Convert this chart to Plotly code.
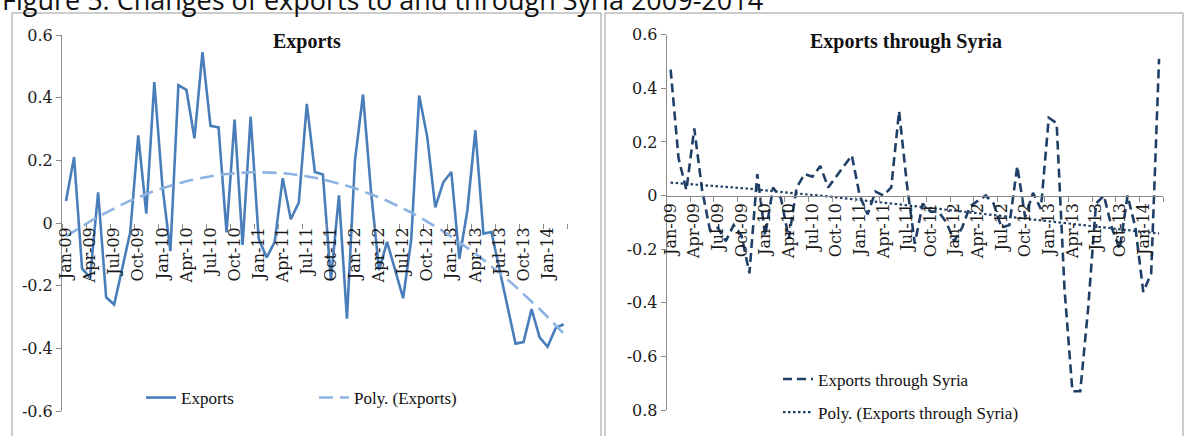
import numpy as np
import plotly.graph_objects as go

W, H = 1185, 436

months = ["Jan-09","Feb-09","Mar-09","Apr-09","May-09","Jun-09","Jul-09","Aug-09","Sep-09","Oct-09","Nov-09","Dec-09",
          "Jan-10","Feb-10","Mar-10","Apr-10","May-10","Jun-10","Jul-10","Aug-10","Sep-10","Oct-10","Nov-10","Dec-10",
          "Jan-11","Feb-11","Mar-11","Apr-11","May-11","Jun-11","Jul-11","Aug-11","Sep-11","Oct-11","Nov-11","Dec-11",
          "Jan-12","Feb-12","Mar-12","Apr-12","May-12","Jun-12","Jul-12","Aug-12","Sep-12","Oct-12","Nov-12","Dec-12",
          "Jan-13","Feb-13","Mar-13","Apr-13","May-13","Jun-13","Jul-13","Aug-13","Sep-13","Oct-13","Nov-13","Dec-13",
          "Jan-14","Feb-14","Mar-14"]

exports = [0.07, 0.21, -0.145, -0.175, 0.098, -0.237, -0.26, -0.15, -0.03, 0.28,
           0.03, 0.45, 0.12, -0.09, 0.44, 0.425, 0.27, 0.545, 0.31, 0.305,
           -0.03, 0.33, -0.07, 0.34, -0.05, -0.11, -0.06, 0.143, 0.012, 0.065,
           0.38, 0.163, 0.155, -0.183, 0.088, -0.305, 0.2, 0.41, 0.10, -0.15,
           -0.06, -0.15, -0.24, -0.055, 0.407, 0.275, 0.05, 0.13, 0.163, -0.114,
           0.04, 0.296, -0.034, -0.029, -0.15, -0.27, -0.385, -0.38, -0.275, -0.365,
           -0.395, -0.335, -0.323]

exports_syria = [0.47, 0.14, 0.02, 0.25, 0.02, -0.13, -0.12, -0.17, -0.11, -0.15,
                 -0.29, 0.08, -0.15, 0.03, -0.01, -0.16, 0.03, 0.08, 0.07, 0.11,
                 0.03, 0.07, 0.11, 0.15, 0.0, -0.07, 0.015, 0.0, 0.03, 0.315,
                 0.04, -0.18, -0.03, -0.06, -0.06, -0.1, -0.17, -0.12, -0.04, -0.02,
                 0.0, -0.03, -0.12, -0.11, 0.11, -0.08, 0.01, -0.05, 0.29, 0.27,
                 -0.35, -0.73, -0.73, -0.42, -0.03, 0.0, -0.12, -0.2, 0.0, -0.12,
                 -0.36, -0.29, 0.51]

left_yticks = [-0.6, -0.4, -0.2, 0, 0.2, 0.4, 0.6]
left_yticktext = ["-0.6", "-0.4", "-0.2", "0", "0.2", "0.4", "0.6"]
right_yticks = [-0.8, -0.6, -0.4, -0.2, 0, 0.2, 0.4, 0.6]
right_yticktext = ["0.8", "-0.6", "-0.4", "-0.2", "0", "0.2", "0.4", "0.6"]

idx = np.arange(len(months))
# polynomial trendlines (as Excel "Poly." trendline) fitted on the data
trend_left = np.polyval(np.polyfit(idx, exports, 2), idx)
trend_right = np.polyval(np.polyfit(idx, exports_syria, 3), idx)

tickpos = idx[::3]
ticklab = [months[i] for i in tickpos]
bounds = list(np.arange(-0.5, len(months), 3))

BLUE = "#4A7EBB"
LBLUE = "#8DB3E2"
NAVY = "#1F3F66"
AXC = "#8C8C8C"
SERIF = "DejaVu Serif, Liberation Serif, serif"
LSERIF = "Liberation Serif, serif"


def px_x(p):
    return p / W


def px_y(p):
    return 1 - p / H


fig = go.Figure()
fig.add_trace(go.Scatter(x=idx, y=exports, mode="lines", name="Exports",
                         line=dict(color=BLUE, width=2.6), xaxis="x", yaxis="y", legend="legend"))
fig.add_trace(go.Scatter(x=idx, y=trend_left, mode="lines", name="Poly. (Exports)",
                         line=dict(color=LBLUE, width=2.6, dash="14px,7px"), xaxis="x", yaxis="y", legend="legend"))
fig.add_trace(go.Scatter(x=idx, y=exports_syria, mode="lines", name="Exports through Syria",
                         line=dict(color=NAVY, width=2.6, dash="9px,5px"), xaxis="x2", yaxis="y2",
                         legend="legend2", legendgroup="a"))
fig.add_trace(go.Scatter(x=idx, y=trend_right, mode="lines", name="Poly. (Exports through Syria)",
                         line=dict(color=NAVY, width=2.2, dash="2.5px,2.5px"), xaxis="x2", yaxis="y2",
                         legend="legend2", legendgroup="b"))

lxd = [px_x(62), px_x(567.7)]
lyd = [px_y(411), px_y(35)]
rxd = [px_x(666.7), px_x(1163)]
ryd = [px_y(410), px_y(34.7)]


def zero_pos(yd, lo, hi):
    return yd[0] + (0 - lo) / (hi - lo) * (yd[1] - yd[0])


xcommon = dict(range=[-0.5, len(months) - 0.5], tickmode="array", tickvals=tickpos, ticktext=ticklab,
               tickangle=-90, ticks="", showgrid=False, zeroline=False, automargin=False,
               tickfont=dict(family=SERIF, size=16, color="#1a1a1a"),
               minor=dict(tickmode="array", tickvals=bounds, ticks="outside", ticklen=5,
                          tickcolor=AXC, tickwidth=1, showgrid=False),
               anchor="free")
ycommon = dict(showgrid=False, zeroline=False, showline=True, linecolor=AXC, linewidth=1,
               ticks="outside", ticklen=5, tickcolor=AXC, tickmode="array", automargin=False,
               tickfont=dict(family=SERIF, size=16, color="#1a1a1a"))

fig.update_layout(
    width=W, height=H, margin=dict(l=0, r=0, t=0, b=0, pad=0, autoexpand=False),
    paper_bgcolor="white", plot_bgcolor="rgba(0,0,0,0)",
    xaxis=dict(domain=lxd, position=zero_pos(lyd, -0.6, 0.6), showline=False, **xcommon),
    yaxis=dict(domain=lyd, range=[-0.6, 0.6], tickvals=left_yticks, ticktext=left_yticktext,
               anchor="x", **ycommon),
    xaxis2=dict(domain=rxd, position=zero_pos(ryd, -0.8, 0.6), showline=True, linecolor=AXC, linewidth=1,
                **xcommon),
    yaxis2=dict(domain=ryd, range=[-0.8, 0.6], tickvals=right_yticks, ticktext=right_yticktext,
                anchor="x2", **ycommon),
    legend=dict(orientation="h", x=px_x(141), y=px_y(398), xanchor="left", yanchor="middle",
                font=dict(family=LSERIF, size=17, color="#111"),
                entrywidth=128, entrywidthmode="pixels", bgcolor="rgba(0,0,0,0)"),
    legend2=dict(orientation="v", x=px_x(778), y=px_y(396), xanchor="left", yanchor="middle",
                 font=dict(family=LSERIF, size=17, color="#111"),
                 tracegroupgap=8, bgcolor="rgba(0,0,0,0)"),
    showlegend=True,
)

# chart frames
fig.add_shape(type="rect", xref="paper", yref="paper", x0=px_x(12), x1=px_x(601), y0=px_y(445), y1=px_y(13),
              line=dict(color="#9A9A9A", width=1))
fig.add_shape(type="rect", xref="paper", yref="paper", x0=px_x(605), x1=px_x(1183), y0=px_y(445), y1=px_y(13),
              line=dict(color="#9A9A9A", width=1))

# titles
fig.add_annotation(text="<b>Exports</b>", x=px_x(307), y=px_y(41), xref="paper", yref="paper",
                   xanchor="center", yanchor="middle",
                   showarrow=False, font=dict(family=LSERIF, size=20, color="#111"))
fig.add_annotation(text="<b>Exports through Syria</b>", x=px_x(906), y=px_y(41), xref="paper", yref="paper",
                   xanchor="center", yanchor="middle",
                   showarrow=False, font=dict(family=LSERIF, size=20, color="#111"))
# figure caption (cut off at the top, as in the source)
fig.add_annotation(text="Figure 5: Changes of exports to and through Syria 2009-2014", x=0, y=px_y(20),
                   xref="paper", yref="paper", xanchor="left", yanchor="bottom", showarrow=False,
                   font=dict(family="Open Sans", size=27, color="#111"))

post = """
document.documentElement.style.margin='0px';
document.body.style.margin='0px';
"""
fig.write_html("out.html", post_script=post, config={"displayModeBar": False})
